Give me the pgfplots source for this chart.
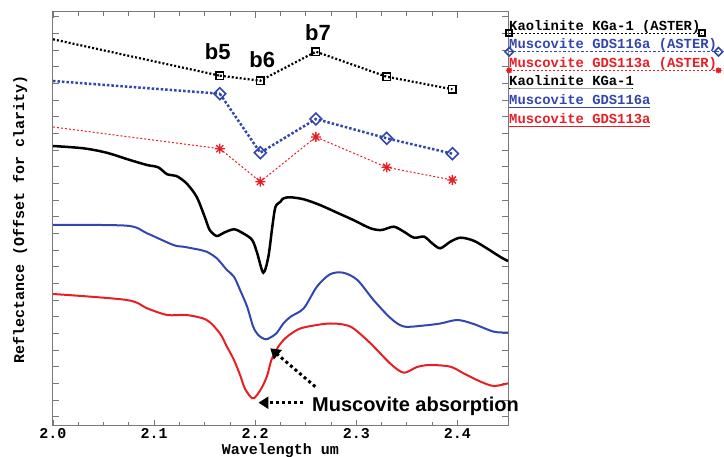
\documentclass[border=0pt]{standalone}
\usepackage{fontspec}
\setmainfont{Liberation Sans}
\setmonofont{Liberation Mono}
\usepackage{pgfplots}
\pgfplotsset{compat=1.18}
\usetikzlibrary{arrows.meta}

\definecolor{kblue}{RGB}{50,70,175}
\definecolor{kred}{RGB}{232,30,36}
\definecolor{axgray}{RGB}{120,120,120}

\newcommand{\monofont}{\ttfamily\bfseries\fontsize{15}{18}\selectfont}
\newcommand{\legfont}{\ttfamily\bfseries\fontsize{13.85}{16}\selectfont}

% eight-ray asterisk like the one in the reference
\pgfdeclareplotmark{ast8}{%
  \pgfpathmoveto{\pgfqpoint{-\pgfplotmarksize}{0pt}}%
  \pgfpathlineto{\pgfqpoint{\pgfplotmarksize}{0pt}}%
  \pgfpathmoveto{\pgfqpoint{0pt}{-\pgfplotmarksize}}%
  \pgfpathlineto{\pgfqpoint{0pt}{\pgfplotmarksize}}%
  \pgfpathmoveto{\pgfqpoint{-0.707\pgfplotmarksize}{-0.707\pgfplotmarksize}}%
  \pgfpathlineto{\pgfqpoint{0.707\pgfplotmarksize}{0.707\pgfplotmarksize}}%
  \pgfpathmoveto{\pgfqpoint{-0.707\pgfplotmarksize}{0.707\pgfplotmarksize}}%
  \pgfpathlineto{\pgfqpoint{0.707\pgfplotmarksize}{-0.707\pgfplotmarksize}}%
  \pgfusepathqstroke}

% legend sample drawn as an underline of the entry text
\pgfplotsset{
    ulegend/.style={legend image code/.code={\draw[overlay,##1,line width=1pt]
        plot coordinates {(0pt,-3pt) (#1,-3pt)};}},
    ulegendm/.style={legend image code/.code={\draw[overlay,##1,line width=0.8pt,mark size=3pt]
        plot coordinates {(0pt,-3pt) (#1,-3pt)};}},
}

\begin{document}
\begin{tikzpicture}
% one pt per pixel of the 724x457 reference
\useasboundingbox (-53pt,-31pt) rectangle (671pt,426pt);
\begin{axis}[
    at={(0pt,0pt)}, anchor=south west,
    scale only axis, width=455pt, height=414pt,
    xmin=2.0, xmax=2.45, ymin=0, ymax=414,
    xtick={2.0,2.1,2.2,2.3,2.4},
    xticklabels={2.0,2.1,2.2,2.3,2.4},
    minor x tick num=3,
    ytick={9.3,25.97,...,412}, yticklabels={},
    tick align=inside,
    major tick length=6pt, minor tick length=4pt,
    axis line style={axgray, line width=1pt},
    every tick/.style={axgray, line width=0.8pt},
    xticklabel style={font=\monofont, anchor=base, yshift=-12.5pt, text depth=0pt},
    every axis x label/.style={at={(axis description cs:0.5,0)}, anchor=base, yshift=-28.5pt,
        font=\monofont, text height=9pt, inner sep=0pt},
    every axis y label/.style={at={(axis description cs:-0.0725,0.5)}, rotate=90, anchor=center, font=\monofont},
    xlabel={Wavelength um},
    ylabel={Reflectance (Offset for clarity)},
    legend style={at={(1,1)}, anchor=north west, xshift=1pt, yshift=-8pt,
        draw=none, fill=none, inner sep=0pt, row sep=5.6pt, column sep=0pt,
        font=\legfont, cells={anchor=base west},
        nodes={inner sep=0pt, text height=10pt, text depth=3pt}},
]

% ASTER band values (segment from the left edge first)
\addplot[black, dash pattern=on 2pt off 2pt, line width=2.2pt, forget plot]
    coordinates {(2.0,386.7) (2.165,350.3)};
\addplot[kblue, dash pattern=on 2.5pt off 2pt, line width=2.5pt, forget plot]
    coordinates {(2.0,345) (2.165,332.3)};
\addplot[kred, dash pattern=on 2pt off 2pt, line width=1pt, forget plot]
    coordinates {(2.0,299) (2.165,277.3)};

\addplot[black, dash pattern=on 2pt off 2pt, line width=2.2pt,
    mark=square, mark size=3.7pt, mark options={solid, line width=1.6pt},
    ulegendm=192.7pt]
    coordinates {(2.165,350.3) (2.205,345.3) (2.260,374.3) (2.330,349.3) (2.395,336.7)};
\addlegendentry{Kaolinite KGa-1 (ASTER)}

\addplot[kblue, dash pattern=on 2.5pt off 2pt, line width=2.5pt,
    mark=square, mark size=4.2pt, mark options={solid, rotate=45, line width=1.6pt},
    ulegendm=209.3pt]
    coordinates {(2.165,332.3) (2.205,273.3) (2.260,307) (2.330,287.7) (2.395,272.3)};
\addlegendentry[text=kblue]{Muscovite GDS116a (ASTER)}

\addplot[kred, dash pattern=on 2pt off 2pt, line width=1pt,
    mark=ast8, mark size=5pt, mark options={solid, line width=1.3pt},
    ulegendm=209.3pt]
    coordinates {(2.165,277.3) (2.205,244.3) (2.260,289) (2.330,258.7) (2.395,246)};
\addlegendentry[text=kred]{Muscovite GDS113a (ASTER)}

% laboratory spectra
\addplot[black, line width=2.5pt, smooth, ulegend=124pt]
    coordinates {
    (2.000,280) (2.030,277.7) (2.053,273.3) (2.076,266) (2.093,261)
    (2.104,258.7) (2.113,251.7) (2.122,250) (2.132,242.7) (2.142,229.3)
    (2.150,209.3) (2.155,196) (2.162,190) (2.169,193.3) (2.179,196.7)
    (2.188,192.7) (2.197,186) (2.202,172.7) (2.208,153.3) (2.213,169.3)
    (2.217,200) (2.220,219) (2.225,224.3) (2.228,227.7) (2.235,228.7)
    (2.248,226.7) (2.264,221) (2.281,213.3) (2.297,206) (2.314,197.7)
    (2.325,196) (2.337,199.3) (2.347,194.3) (2.357,188.3) (2.367,189.3)
    (2.375,182.7) (2.383,177.7) (2.393,184.3) (2.403,188.3) (2.416,185.3)
    (2.429,177.7) (2.443,168.7) (2.450,165)
    };
\addlegendentry{Kaolinite KGa-1}

\addplot[kblue, line width=2pt, smooth, ulegend=141pt]
    coordinates {
    (2.000,201) (2.073,200.3) (2.093,192.7) (2.119,181) (2.129,179.3)
    (2.146,176) (2.152,174.3) (2.162,167.7) (2.172,156) (2.179,149.3)
    (2.185,136) (2.192,119.3) (2.198,99.3) (2.203,91) (2.210,86.7)
    (2.215,88.5) (2.221,92.7) (2.228,102.7) (2.235,109.3) (2.248,117.7)
    (2.261,139.3) (2.274,151.7) (2.287,153.3) (2.301,146) (2.317,126)
    (2.334,107.7) (2.347,99.5) (2.367,100.5) (2.383,102.5) (2.400,106)
    (2.416,102) (2.436,94.3) (2.450,93.5)
    };
\addlegendentry[text=kblue]{Muscovite GDS116a}

\addplot[kred, line width=2pt, smooth, ulegend=141pt]
    coordinates {
    (2.000,132) (2.073,126) (2.093,117.7) (2.113,111) (2.132,111)
    (2.152,106) (2.165,92.7) (2.172,79.3) (2.179,66) (2.185,51)
    (2.190,37) (2.197,27.7) (2.201,30) (2.207,39.3) (2.212,51)
    (2.216,66) (2.222,78) (2.228,86) (2.235,92) (2.245,97.7)
    (2.261,101) (2.274,102.5) (2.287,101.5) (2.297,97.7) (2.314,82.7)
    (2.334,62) (2.347,53.3) (2.360,59) (2.373,61) (2.393,59.3)
    (2.406,52.7) (2.423,44.3) (2.436,40) (2.450,42.7)
    };
\addlegendentry[text=kred]{Muscovite GDS113a}

% anchor points for the annotations drawn after the axis
\coordinate (b5) at (axis cs:2.163,374);
\coordinate (b6) at (axis cs:2.207,366);
\coordinate (b7) at (axis cs:2.262,393);
\coordinate (a1s) at (axis cs:2.2594,39.3);
\coordinate (a1e) at (axis cs:2.2149,77.7);
\coordinate (a2s) at (axis cs:2.2475,23.3);
\coordinate (a2e) at (axis cs:2.2032,23.3);
\coordinate (mt) at (axis cs:2.2561,14.3);
\end{axis}

\begin{scope}[font=\bfseries\fontsize{22}{22}\selectfont]
\node at (b5) {b5};
\node at (b6) {b6};
\node at (b7) {b7};
\end{scope}
\draw[line width=3pt, dash pattern=on 3pt off 3pt,
    -{Triangle[length=10pt,width=12pt]}] (a1s) -- (a1e);
\draw[line width=3pt, dash pattern=on 3pt off 3pt,
    -{Triangle[length=10pt,width=12pt]}] (a2s) -- (a2e);
\node[anchor=base west, inner sep=0pt, font=\bfseries\fontsize{20}{20}\selectfont] at (mt) {Muscovite absorption};
\end{tikzpicture}
\end{document}
